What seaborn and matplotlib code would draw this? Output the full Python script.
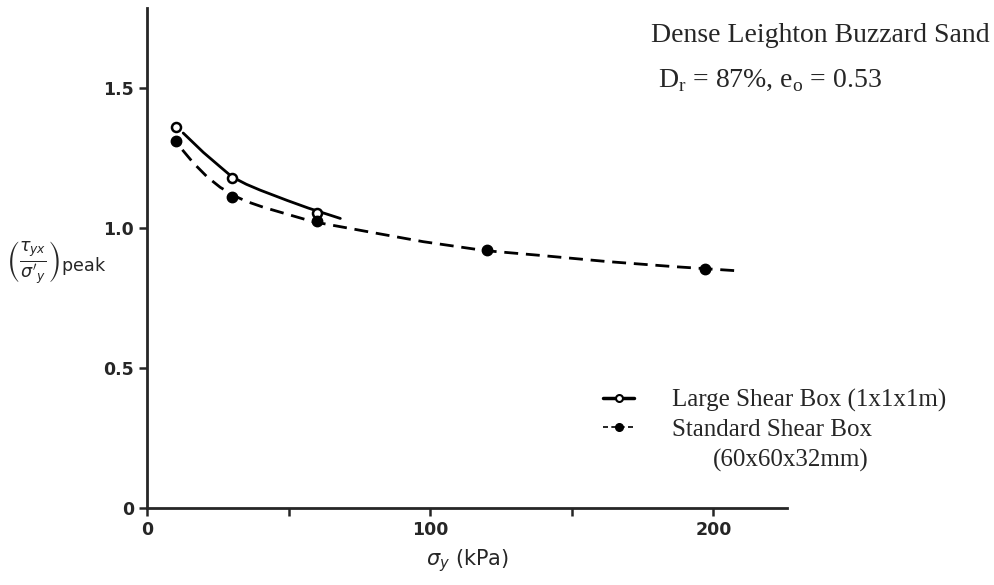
import numpy as np
import pandas as pd
import matplotlib
matplotlib.use("Agg")
import matplotlib.pyplot as plt
import seaborn as sns
from matplotlib.lines import Line2D

# measured points
large_x = [10, 30, 60]
large_y = [1.36, 1.18, 1.055]
std_x = [10, 30, 60, 120, 197]
std_y = [1.31, 1.11, 1.025, 0.92, 0.855]

# fitted curves
large_curve_x = [12.7, 19.8, 25.8, 30.0, 35.0, 39.9, 49.5, 56.9, 63, 68.2]
large_curve_y = [1.339, 1.270, 1.218, 1.182, 1.156, 1.135, 1.098, 1.071, 1.051, 1.034]
std_curve_x = [12.4, 16.3, 21.2, 25.8, 31.1, 35.3, 41.0, 50.5, 58.7, 70.7,
               79.9, 97.5, 119.4, 138.9, 162.5, 185.9, 196.5, 208.5]
std_curve_y = [1.279, 1.232, 1.182, 1.145, 1.113, 1.094, 1.074, 1.046, 1.022, 1.0,
               0.983, 0.951, 0.919, 0.902, 0.880, 0.862, 0.855, 0.847]

x_ticks = [0, 100, 200]
x_minor = [50, 150]
y_ticks = [0, 0.5, 1.0, 1.5]
y_tick_labels = ["0", "0.5", "1.0", "1.5"]

sns.set_style("ticks")
plt.rcParams["font.family"] = ["DejaVu Sans"]

fig = plt.figure(figsize=(9.95, 5.85), dpi=100)
ax = fig.add_axes([0.148, 0.1316, 0.643, 0.855])

sns.lineplot(x=large_curve_x, y=large_curve_y, ax=ax, color="black", lw=2.0,
             sort=False, estimator=None)
sns.lineplot(x=std_curve_x, y=std_curve_y, ax=ax, color="black", lw=2.0,
             sort=False, estimator=None, linestyle=(0, (5, 2.8)))
ax.plot(large_x, large_y, linestyle="none", marker="o", ms=6.5, mfc="white",
        mec="black", mew=1.8, zorder=5)
ax.plot(std_x, std_y, linestyle="none", marker="o", ms=7.5, mfc="black",
        mec="black", zorder=5)

ax.set_xlim(0, 226)
ax.set_ylim(0, 1.786)
sns.despine(ax=ax)
for s in ["left", "bottom"]:
    ax.spines[s].set_linewidth(2.0)
ax.set_xticks(x_ticks)
ax.set_xticks(x_minor, minor=True)
ax.set_yticks(y_ticks)
ax.set_yticklabels(y_tick_labels)
ax.tick_params(axis="both", which="both", direction="out", width=1.8, length=6,
               labelsize=12.5)
for lab in ax.get_xticklabels() + ax.get_yticklabels():
    lab.set_fontweight("bold")

ax.set_xlabel(r"$\sigma_y$ (kPa)", fontsize=15, labelpad=6)
ax.set_ylabel(r"$\left(\frac{\tau_{yx}}{\sigma'_y}\right)_{\mathrm{peak}}$",
              fontsize=18, rotation=0, va="center", ha="center")
ax.yaxis.set_label_coords(-0.142, 0.49)

fig.text(0.654, 0.94, "Dense Leighton Buzzard Sand", fontsize=20,
         family="Liberation Serif", ha="left", va="center")
fig.text(0.661, 0.862, r"D$_\mathregular{r}$ = 87%, e$_\mathregular{o}$ = 0.53",
         fontsize=20, family="Liberation Serif", ha="left", va="center")

handles = [
    Line2D([], [], color="black", lw=2.5, marker="o", ms=5, mfc="white", mec="black", mew=1.5),
    Line2D([], [], color="black", lw=1.2, linestyle=(0, (3, 2)), marker="o", ms=5.5, mfc="black"),
]
labels = ["Large Shear Box (1x1x1m)", "Standard Shear Box"]
leg = ax.legend(handles, labels, loc="upper left", bbox_to_anchor=(0.606, 0.335),
                bbox_transform=fig.transFigure, frameon=False, handlelength=1.25,
                handletextpad=1.5, labelspacing=0.25, borderpad=0, borderaxespad=0,
                prop={"family": "Liberation Serif", "size": 18})
fig.text(0.716, 1 - 460 / 585, "(60x60x32mm)", fontsize=18,
         family="Liberation Serif", ha="left", va="center")

fig.savefig("out.png", dpi=100)
